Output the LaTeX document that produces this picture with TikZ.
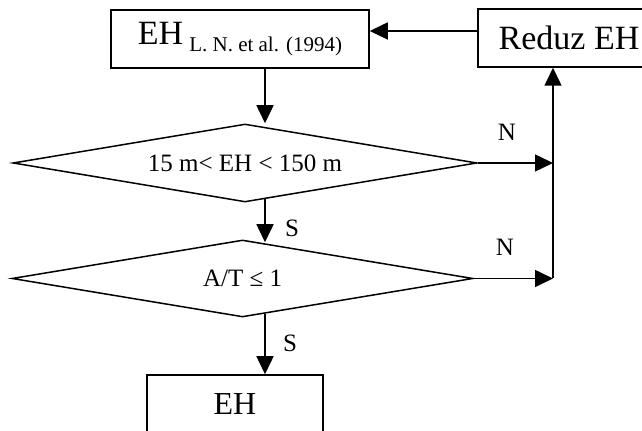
\documentclass[tikz,border=0pt]{standalone}
\usepackage{fontspec}
\setmainfont{Liberation Serif}
\usetikzlibrary{arrows.meta,shapes.geometric}
\begin{document}
\begin{tikzpicture}[x=0.5pt,y=-0.5pt,
  line width=0.75pt,
  box/.style={draw,rectangle,inner sep=0pt,minimum height=29pt},
  decision/.style={draw,diamond,inner sep=0pt,aspect=6,
    font=\fontsize{12.5}{14}\selectfont},
  arr/.style={-{Triangle[length=9pt,width=8.5pt]}},
  lbl/.style={font=\fontsize{12.5}{14}\selectfont,inner sep=0pt}]
\useasboundingbox (0,0) rectangle (642,431);
\clip (0,0) rectangle (642,431);

% boxes
\node[box,minimum width=129pt] (top) at (240,39)
  {\fontsize{17}{20}\selectfont EH\hspace{3pt}\raisebox{-3.5pt}{\fontsize{10.5}{12}\selectfont L. N. et al. (1994)}};
\node[box,minimum width=91pt,font=\fontsize{17}{20}\selectfont] (reduz) at (569,38) {Reduz EH};
\node[box,minimum width=88pt,font=\fontsize{16}{19}\selectfont] (bot) at (235,404) {EH};

% decisions
\node[decision,minimum width=232pt,minimum height=39pt] (d1) at (245,163) {15 m< EH < 150 m};
\node[decision,minimum width=230.5pt,minimum height=38.5pt] (d2) at (242.5,278.5) {A/T ≤ 1};

% helper points
\coordinate (xa) at (265,0);
\coordinate (ya) at (0,31);
\coordinate (j1) at (553,163);
\coordinate (j2) at (553,278.5);

% connectors
\draw[arr] (reduz.west |- ya) -- (top.east |- ya);
\draw[arr] (top.south -| xa) -- (d1.north -| xa);
\draw[arr,shorten <=-1.7pt,shorten >=-1.5pt] (d1.south -| xa) -- (d2.north -| xa);
\draw[arr,shorten <=-1.7pt] (d2.south -| xa) -- (bot.north -| xa);
\draw[arr] (d1.east) -- (j1);
\draw[arr] (d2.east) -- (j2);
\draw[arr] (j2) -- (reduz.south -| j2);

% branch labels
\node[lbl] (n1) at (507,132) {N};
\node[lbl] (n2) at (505,247) {N};
\node[lbl] (s1) at (292,228) {S};
\node[lbl] (s2) at (290,343) {S};
\end{tikzpicture}
\end{document}
